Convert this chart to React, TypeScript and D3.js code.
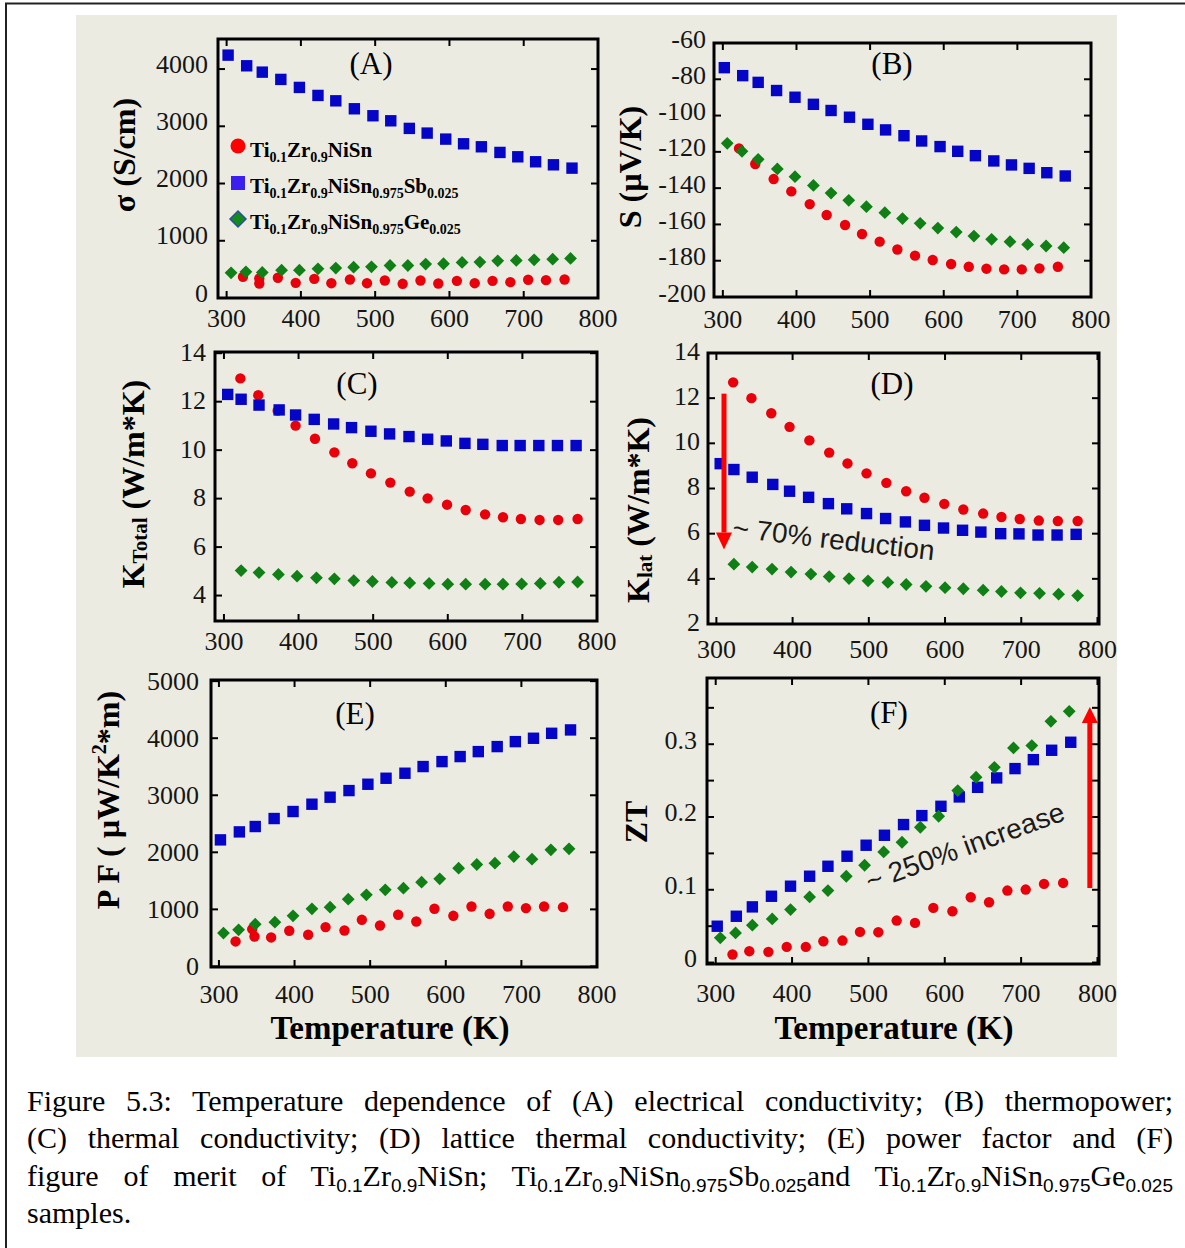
import React from "react";
import * as d3 from "d3";

// temperatures (K); electrical runs (A, B, E, F) and thermal runs (C, D)
const T_NISN_EL = [322, 344, 369, 393, 418, 441, 466, 489, 513, 537, 561, 585, 610, 634, 658, 682, 706, 730, 755];
const T_SB_EL = [302, 327, 348, 373, 398, 423, 447, 472, 497, 521, 546, 570, 595, 619, 643, 668, 692, 716, 740, 765];
const T_GE_EL = [306, 326, 348, 374, 398, 423, 447, 471, 495, 520, 544, 568, 592, 617, 641, 665, 690, 714, 739, 763];
const T_NISN_TH = [322, 346, 372, 396, 422, 448, 472, 497, 523, 549, 573, 599, 624, 650, 674, 698, 723, 748, 774];
const T_SB_TH = [305, 323, 347, 374, 396, 421, 447, 471, 497, 522, 548, 573, 598, 623, 647, 673, 697, 722, 747, 772];
const T_GE_TH = [323, 347, 373, 398, 424, 448, 474, 499, 525, 549, 575, 600, 624, 650, 674, 699, 724, 749, 774];

// (A) electrical conductivity, S/cm
const SIGMA_NISN = [370, 254, 353, 265, 335, 259, 324, 259, 306, 248, 306, 254, 300, 259, 300, 277, 318, 312, 324];
const SIGMA_SB = [4243, 4057, 3946, 3819, 3679, 3539, 3445, 3306, 3184, 3096, 2963, 2881, 2776, 2694, 2642, 2543, 2467, 2380, 2327, 2269];
const SIGMA_GE = [440, 458, 446, 487, 487, 510, 522, 539, 545, 568, 568, 592, 598, 621, 627, 650, 656, 667, 679, 691];
const SIGMA_NISN_REPEAT_T = [344];
const SIGMA_NISN_REPEAT = [342];

// (B) thermopower, uV/K
const S_NISN = [-118.1, -126.7, -135.0, -141.8, -148.8, -154.8, -160.3, -165.3, -169.5, -173.8, -177.2, -179.6, -181.8, -183.3, -184.4, -184.8, -184.8, -184.2, -183.3];
const S_SB = [-73.6, -78.0, -81.7, -86.2, -89.9, -93.8, -97.2, -100.9, -104.8, -107.9, -111.1, -114.0, -117.1, -119.7, -122.1, -125.0, -127.2, -129.1, -131.5, -133.3];
const S_GE = [-115.3, -119.7, -124.1, -129.4, -133.7, -138.5, -142.7, -146.7, -150.2, -153.5, -156.8, -159.4, -162.0, -164.2, -166.4, -168.2, -169.5, -171.0, -171.9, -172.8];

// (C) total thermal conductivity, W/m*K
const KT_NISN = [12.96, 12.27, 11.63, 11.01, 10.47, 9.91, 9.46, 9.04, 8.66, 8.29, 8.01, 7.75, 7.53, 7.35, 7.23, 7.16, 7.12, 7.12, 7.16];
const KT_SB = [12.3, 12.1, 11.86, 11.66, 11.45, 11.27, 11.08, 10.93, 10.78, 10.67, 10.56, 10.45, 10.38, 10.28, 10.24, 10.19, 10.19, 10.19, 10.19, 10.19];
const KT_GE = [5.03, 4.95, 4.87, 4.8, 4.73, 4.69, 4.62, 4.58, 4.54, 4.52, 4.5, 4.47, 4.47, 4.47, 4.47, 4.48, 4.5, 4.55, 4.56];

// (D) lattice thermal conductivity, W/m*K
const KL_NISN = [12.7, 12.0, 11.33, 10.73, 10.13, 9.59, 9.11, 8.67, 8.25, 7.88, 7.59, 7.32, 7.07, 6.89, 6.74, 6.65, 6.58, 6.56, 6.56];
const KL_SB = [9.1, 8.84, 8.5, 8.18, 7.88, 7.61, 7.33, 7.1, 6.89, 6.67, 6.52, 6.37, 6.25, 6.15, 6.07, 6.0, 5.99, 5.94, 5.94, 5.97];
const KL_GE = [4.65, 4.52, 4.43, 4.3, 4.21, 4.1, 4.01, 3.91, 3.84, 3.75, 3.67, 3.61, 3.56, 3.5, 3.44, 3.38, 3.36, 3.32, 3.26];

// (E) power factor, uW/K^2*m
const PF_NISN = [438, 654, 508, 625, 555, 689, 630, 817, 718, 905, 788, 1010, 887, 1051, 922, 1051, 1022, 1051, 1039];
const PF_SB = [2218, 2358, 2452, 2592, 2715, 2843, 2966, 3082, 3193, 3298, 3386, 3503, 3590, 3678, 3765, 3853, 3940, 3999, 4086, 4145];
const PF_GE = [584, 642, 741, 776, 887, 1010, 1039, 1179, 1255, 1343, 1372, 1477, 1535, 1722, 1786, 1810, 1926, 1880, 2043, 2061];
const PF_NISN_REPEAT_T = [347];
const PF_NISN_REPEAT = [525];

// (F) figure of merit ZT
const ZT_NISN = [0.011, 0.0156, 0.0147, 0.0215, 0.0215, 0.0293, 0.0302, 0.0421, 0.0417, 0.0577, 0.0545, 0.0751, 0.0705, 0.0897, 0.0829, 0.0989, 0.1003, 0.1081, 0.1094];
const ZT_SB = [0.0499, 0.0636, 0.0765, 0.0911, 0.1049, 0.1186, 0.1323, 0.1461, 0.1612, 0.1749, 0.1896, 0.2019, 0.2147, 0.2276, 0.2408, 0.2537, 0.2665, 0.2788, 0.2917, 0.3027];
const ZT_GE = [0.0339, 0.0407, 0.0513, 0.06, 0.0728, 0.0902, 0.0989, 0.1186, 0.1337, 0.152, 0.1653, 0.1859, 0.201, 0.2363, 0.2546, 0.2683, 0.2949, 0.2981, 0.3315, 0.3452];

const TEMP_TICKS = [300, 400, 500, 600, 700, 800];
const SIGMA_TICKS = [0, 1000, 2000, 3000, 4000];
const S_TICKS = [-200, -180, -160, -140, -120, -100, -80, -60];
const KT_TICKS = [4, 6, 8, 10, 12, 14];
const KL_TICKS = [2, 4, 6, 8, 10, 12, 14];
const PF_TICKS = [0, 1000, 2000, 3000, 4000, 5000];
const ZT_TICKS = [0, 0.05, 0.1, 0.15, 0.2, 0.25, 0.3, 0.35];
const ZT_LABELS = [0, 0.1, 0.2, 0.3];

// annotations, in data units of their panel
const D_ARROW = { t: 310, from: 12.2, to: 5.3 };
const D_NOTE = { t: 320, v: 5.85, text: "~ 70% reduction" };
const F_ARROW = { t: 790, from: 0.1024, to: 0.3511 };
const F_NOTE = { t: 502, v: 0.098, text: "~ 250% increase" };

const SERIF = "'Liberation Serif', 'Times New Roman', serif";
const SANS = "'Liberation Sans', Arial, sans-serif";
const RED = "#e8000b";
const BLUE = "#0505c8";
const GREEN = "#0f7f16";

type Part = [string, number]; // 0 normal, 1 sub, -1 sup

function Rich({ parts, small, shift }: { parts: Part[]; small: number; shift: number }) {
  let level = 0;
  return (
    <>
      {parts.map(([s, lv], i) => {
        const dy = (lv - level) * shift;
        level = lv;
        return (
          <tspan key={i} dy={dy || undefined} fontSize={lv !== 0 ? small : undefined}>
            {s}
          </tspan>
        );
      })}
    </>
  );
}

function Marker({ kind, cx, cy }: { kind: string; cx: number; cy: number }) {
  if (kind === "circle") return <circle cx={cx} cy={cy} r={5.2} fill={RED} />;
  if (kind === "square") return <rect x={cx - 5.7} y={cy - 5.7} width={11.4} height={11.4} fill={BLUE} />;
  const s = 6.4;
  return <path d={`M${cx},${cy - s}L${cx + s},${cy}L${cx},${cy + s}L${cx - s},${cy}Z`} fill={GREEN} />;
}

type Series = { t: number[]; v: number[]; kind: string };

type PanelCfg = {
  x0: number; x1: number; y0: number; y1: number;
  xDomain: number[]; yDomain: number[];
  yTicks: number[]; yLabels: number[];
  xLabelDy: number; yGap: number; yDy: number;
  title: string; titleX: number; titleY: number;
  series: Series[];
  extra?: (x: any, y: any) => React.ReactNode;
};

function Panel({ p }: { p: PanelCfg }) {
  const x = d3.scaleLinear().domain(p.xDomain).range([p.x0, p.x1]);
  const y = d3.scaleLinear().domain(p.yDomain).range([p.y1, p.y0]);
  const tl = 7;
  return (
    <g>
      {TEMP_TICKS.map((t) => (
        <g key={"x" + t}>
          <line x1={x(t)} x2={x(t)} y1={p.y1} y2={p.y1 - tl} stroke="#000" strokeWidth={2} />
          <line x1={x(t)} x2={x(t)} y1={p.y0} y2={p.y0 + tl} stroke="#000" strokeWidth={2} />
          <text x={x(t)} y={p.y1 + p.xLabelDy} textAnchor="middle" fontSize={26} fontFamily={SERIF} fill="#151515">
            {t}
          </text>
        </g>
      ))}
      {p.yTicks.map((v) => (
        <g key={"y" + v}>
          <line x1={p.x0} x2={p.x0 + tl} y1={y(v)} y2={y(v)} stroke="#000" strokeWidth={2} />
          <line x1={p.x1} x2={p.x1 - tl} y1={y(v)} y2={y(v)} stroke="#000" strokeWidth={2} />
        </g>
      ))}
      {p.yLabels.map((v) => (
        <text
          key={"yl" + v}
          x={p.x0 - p.yGap}
          y={y(v) + p.yDy}
          textAnchor="end"
          dominantBaseline="central"
          fontSize={26}
          fontFamily={SERIF}
          fill="#151515"
        >
          {String(v)}
        </text>
      ))}
      <text x={p.titleX} y={p.titleY} textAnchor="middle" dominantBaseline="central" fontSize={31} fontFamily={SERIF}>
        {p.title}
      </text>
      {p.series.map((s, si) =>
        s.t.map((t, i) => <Marker key={si + "-" + i} kind={s.kind} cx={x(t)} cy={y(s.v[i])} />)
      )}
      {p.extra && p.extra(x, y)}
      <rect x={p.x0} y={p.y0} width={p.x1 - p.x0} height={p.y1 - p.y0} fill="none" stroke="#000" strokeWidth={3} />
    </g>
  );
}

function Arrow({ x, yFrom, yTo, headW, headL }: { x: number; yFrom: number; yTo: number; headW: number; headL: number }) {
  const dir = yTo > yFrom ? 1 : -1;
  const base = yTo - dir * headL;
  return (
    <g fill="#ff0000">
      <rect x={x - 2.5} y={Math.min(yFrom, base)} width={5} height={Math.abs(base - yFrom)} />
      <path d={`M${x - headW / 2},${base}L${x + headW / 2},${base}L${x},${yTo}Z`} />
    </g>
  );
}

const FORMULA_NISN: Part[] = [["Ti", 0], ["0.1", 1], ["Zr", 0], ["0.9", 1], ["NiSn", 0]];
const FORMULA_SB: Part[] = [...FORMULA_NISN, ["0.975", 1], ["Sb", 0], ["0.025", 1]];
const FORMULA_GE: Part[] = [...FORMULA_NISN, ["0.975", 1], ["Ge", 0], ["0.025", 1]];

const reds = (t: number[], v: number[]): Series => ({ t, v, kind: "circle" });
const blues = (t: number[], v: number[]): Series => ({ t, v, kind: "square" });
const greens = (t: number[], v: number[]): Series => ({ t, v, kind: "diamond" });

const PANELS: PanelCfg[] = [
  {
    x0: 218, x1: 598, y0: 39, y1: 298, xDomain: [288.4, 800], yDomain: [0, 4525],
    yTicks: SIGMA_TICKS, yLabels: SIGMA_TICKS, xLabelDy: 29, yGap: 10, yDy: -5,
    title: "(A)", titleX: 371, titleY: 63,
    series: [
      reds(T_NISN_EL, SIGMA_NISN),
      reds(SIGMA_NISN_REPEAT_T, SIGMA_NISN_REPEAT),
      blues(T_SB_EL, SIGMA_SB),
      greens(T_GE_EL, SIGMA_GE),
    ],
    extra: () => (
      <g fontFamily={SERIF} fontWeight="bold" fontSize={21}>
        <circle cx={238} cy={146} r={7.5} fill="#ff0000" />
        <text x={250} y={157}><Rich parts={FORMULA_NISN} small={14} shift={5} /></text>
        <rect x={231} y={176} width={14} height={14} fill="#3b1ff0" />
        <text x={250} y={193}><Rich parts={FORMULA_SB} small={14} shift={5} /></text>
        <path d="M238,211L246,219L238,227L230,219Z" fill="#128a1e" stroke="#2f4f9a" strokeWidth={1.5} />
        <text x={250} y={229}><Rich parts={FORMULA_GE} small={14} shift={5} /></text>
      </g>
    ),
  },
  {
    x0: 714, x1: 1091, y0: 43, y1: 297, xDomain: [288, 800], yDomain: [-200, -60],
    yTicks: S_TICKS, yLabels: S_TICKS, xLabelDy: 31, yGap: 8, yDy: -4,
    title: "(B)", titleX: 892, titleY: 63,
    series: [reds(T_NISN_EL, S_NISN), blues(T_SB_EL, S_SB), greens(T_GE_EL, S_GE)],
  },
  {
    x0: 215, x1: 597, y0: 352, y1: 621, xDomain: [288, 800], yDomain: [2.95, 14.05],
    yTicks: KT_TICKS, yLabels: KT_TICKS, xLabelDy: 29, yGap: 9, yDy: -1,
    title: "(C)", titleX: 357, titleY: 383,
    series: [reds(T_NISN_TH, KT_NISN), blues(T_SB_TH, KT_SB), greens(T_GE_TH, KT_GE)],
  },
  {
    x0: 708, x1: 1099, y0: 353, y1: 624, xDomain: [289, 802], yDomain: [2, 14],
    yTicks: KL_TICKS, yLabels: KL_TICKS, xLabelDy: 34, yGap: 8, yDy: -2,
    title: "(D)", titleX: 892, titleY: 383,
    series: [reds(T_NISN_TH, KL_NISN), blues(T_SB_TH, KL_SB), greens(T_GE_TH, KL_GE)],
    extra: (x, y) => (
      <g>
        <Arrow x={x(D_ARROW.t)} yFrom={y(D_ARROW.from)} yTo={y(D_ARROW.to)} headW={16} headL={17} />
        <text
          transform={`translate(${x(D_NOTE.t)},${y(D_NOTE.v)}) rotate(6.6)`}
          fontFamily={SANS}
          fontSize={28}
          fill="#1a1a1a"
        >
          {D_NOTE.text}
        </text>
      </g>
    ),
  },
  {
    x0: 211, x1: 597, y0: 680, y1: 967, xDomain: [289.5, 800], yDomain: [-10, 5020],
    yTicks: PF_TICKS, yLabels: PF_TICKS, xLabelDy: 36, yGap: 12, yDy: 0,
    title: "(E)", titleX: 355, titleY: 713,
    series: [
      reds(T_NISN_EL, PF_NISN),
      reds(PF_NISN_REPEAT_T, PF_NISN_REPEAT),
      blues(T_SB_EL, PF_SB),
      greens(T_GE_EL, PF_GE),
    ],
  },
  {
    x0: 707, x1: 1099, y0: 678, y1: 964, xDomain: [288.6, 802], yDomain: [-0.002, 0.391],
    yTicks: ZT_TICKS, yLabels: ZT_LABELS, xLabelDy: 38, yGap: 10, yDy: -4,
    title: "(F)", titleX: 889, titleY: 712,
    series: [reds(T_NISN_EL, ZT_NISN), blues(T_SB_EL, ZT_SB), greens(T_GE_EL, ZT_GE)],
    extra: (x, y) => (
      <g>
        <Arrow x={x(F_ARROW.t)} yFrom={y(F_ARROW.from)} yTo={y(F_ARROW.to)} headW={16} headL={16} />
        <text
          transform={`translate(${x(F_NOTE.t)},${y(F_NOTE.v)}) rotate(-20)`}
          fontFamily={SANS}
          fontSize={28}
          fill="#1a1a1a"
        >
          {F_NOTE.text}
        </text>
      </g>
    ),
  },
];

function YTitle({ cx, cy, children }: { cx: number; cy: number; children: React.ReactNode }) {
  return (
    <text
      transform={`translate(${cx},${cy}) rotate(-90)`}
      textAnchor="middle"
      dominantBaseline="central"
      fontFamily={SERIF}
      fontWeight="bold"
      fontSize={32}
    >
      {children}
    </text>
  );
}

const subStyle: React.CSSProperties = {
  fontFamily: SANS,
  fontSize: 19,
  verticalAlign: -6,
  lineHeight: 0,
};

function Formula({ parts }: { parts: Part[] }) {
  return (
    <>
      {parts.map(([s, lv], i) =>
        lv ? <span key={i} style={subStyle}>{s}</span> : <span key={i}>{s}</span>
      )}
    </>
  );
}

const lineStyle: React.CSSProperties = {
  height: 37.3,
  lineHeight: "37.3px",
  textAlign: "justify",
  textAlignLast: "justify",
  whiteSpace: "nowrap",
};

export default function App() {
  return (
    <div style={{ position: "absolute", left: 0, top: 0 }}>
      <svg width={1185} height={1248} style={{ display: "block", background: "#fff" }}>
        <path d="M6,1248V3.5H1185" fill="none" stroke="#222" strokeWidth={2} />
        <rect x={76} y={15} width={1041} height={1042} fill="#ecebe1" />
        {PANELS.map((p) => (
          <Panel key={p.title} p={p} />
        ))}
        <YTitle cx={124} cy={155}>σ (S/cm)</YTitle>
        <YTitle cx={630} cy={167}>S (µV/K)</YTitle>
        <YTitle cx={133} cy={484}>
          <Rich parts={[["K", 0], ["Total", 1], [" (W/m*K)", 0]]} small={21} shift={7} />
        </YTitle>
        <YTitle cx={638} cy={510}>
          <Rich parts={[["K", 0], ["lat", 1], [" (W/m*K)", 0]]} small={21} shift={7} />
        </YTitle>
        <YTitle cx={108} cy={800}>
          <Rich parts={[["P F ( µW/K", 0], ["2", -1], ["*m)", 0]]} small={20} shift={9} />
        </YTitle>
        <YTitle cx={636} cy={822}>ZT</YTitle>
        <text x={390} y={1039} textAnchor="middle" fontFamily={SERIF} fontWeight="bold" fontSize={33}>
          Temperature (K)
        </text>
        <text x={894} y={1039} textAnchor="middle" fontFamily={SERIF} fontWeight="bold" fontSize={33}>
          Temperature (K)
        </text>
        <foreignObject x={27} y={1082} width={1146} height={160}>
          <div style={{ fontFamily: SERIF, fontSize: 30, color: "#000", width: 1146 }}>
            <div style={lineStyle}>
              Figure 5.3: Temperature dependence of (A) electrical conductivity; (B) thermopower;
            </div>
            <div style={lineStyle}>
              (C) thermal conductivity; (D) lattice thermal conductivity; (E) power factor and (F)
            </div>
            <div style={lineStyle}>
              figure of merit of <Formula parts={FORMULA_NISN} />; <Formula parts={FORMULA_SB} />and{" "}
              <Formula parts={FORMULA_GE} />
            </div>
            <div style={{ ...lineStyle, textAlign: "left", textAlignLast: "left" }}>samples.</div>
          </div>
        </foreignObject>
      </svg>
    </div>
  );
}
